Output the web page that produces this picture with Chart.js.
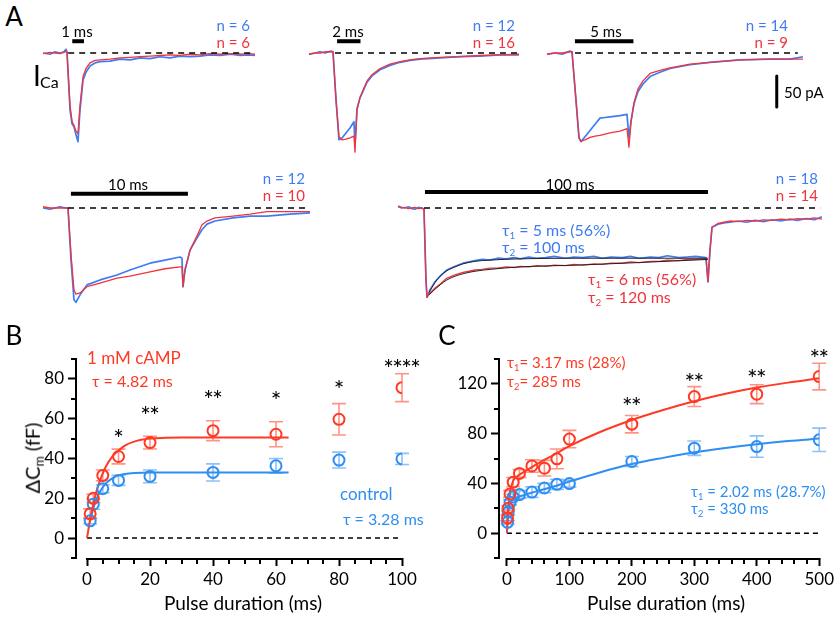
<!DOCTYPE html>
<html>
<head>
<meta charset="utf-8">
<script src="https://cdn.jsdelivr.net/npm/chart.js@4.4.1/dist/chart.umd.min.js"></script>
<style>
  body { margin: 0; background: #fff; }
  #fig { position: relative; width: 837px; height: 617px; overflow: hidden; font-family: Lato, 'Open Sans', sans-serif; color: #000; }
  #fig canvas { position: absolute; }
  .t { position: absolute; white-space: nowrap; line-height: 1; }
  .l { transform: translate(0, -50%); }
  .c { transform: translate(-50%, -50%); }
  .r { transform: translate(-100%, -50%); }
  .tb { color: #3f7cf4; }
  .tr { color: #f0343e; }
  .pb { color: #2f8ef2; }
  .pr { color: #ff3a24; }
  .sb { font-size: 0.62em; position: relative; top: 0.32em; }
</style>
</head>
<body>
<div id="fig">
  <canvas id="tr1"></canvas>
  <canvas id="tr2"></canvas>
  <canvas id="tr3"></canvas>
  <canvas id="tr4"></canvas>
  <canvas id="tr5"></canvas>
  <canvas id="chartB"></canvas>
  <canvas id="chartC"></canvas>

  <!-- panel A labels -->
  <div class="t c" style="left:14px;top:16px;font-size:26px">A</div>
  <div class="t l" style="left:33px;top:75px;font-size:28px">I</div>
  <div class="t l" style="left:40px;top:82px;font-size:16px">Ca</div>
  <div class="t c" style="left:77px;top:31px;font-size:15px">1 ms</div>
  <div class="t r tb" style="left:250px;top:25px;font-size:15px">n = 6</div>
  <div class="t r tr" style="left:250px;top:42px;font-size:15px">n = 6</div>
  <div class="t c" style="left:348px;top:31px;font-size:15px">2 ms</div>
  <div class="t r tb" style="left:515px;top:25px;font-size:15px">n = 12</div>
  <div class="t r tr" style="left:515px;top:42px;font-size:15px">n = 16</div>
  <div class="t c" style="left:606px;top:31px;font-size:15px">5 ms</div>
  <div class="t r tb" style="left:788px;top:25px;font-size:15px">n = 14</div>
  <div class="t r tr" style="left:788px;top:42px;font-size:15px">n = 9</div>
  <div class="t l" style="left:784px;top:92px;font-size:15px">50 pA</div>
  <div class="t c" style="left:128px;top:184px;font-size:15px">10 ms</div>
  <div class="t r tb" style="left:305px;top:178px;font-size:15px">n = 12</div>
  <div class="t r tr" style="left:305px;top:195px;font-size:15px">n = 10</div>
  <div class="t c" style="left:570px;top:184px;font-size:15px">100 ms</div>
  <div class="t r tb" style="left:818px;top:178px;font-size:15px">n = 18</div>
  <div class="t r tr" style="left:818px;top:195px;font-size:15px">n = 14</div>
  <div class="t l tb" style="left:502px;top:230px;font-size:16px">τ<span class="sb">1</span> = 5 ms (56%)</div>
  <div class="t l tb" style="left:502px;top:247px;font-size:16px">τ<span class="sb">2</span> = 100 ms</div>
  <div class="t l tr" style="left:588px;top:279px;font-size:16px">τ<span class="sb">1</span> = 6 ms (56%)</div>
  <div class="t l tr" style="left:588px;top:297px;font-size:16px">τ<span class="sb">2</span> = 120 ms</div>

  <!-- panel B labels -->
  <div class="t c" style="left:14px;top:335px;font-size:26px">B</div>
  <div class="t l pr" style="left:87px;top:357px;font-size:17px">1 mM cAMP</div>
  <div class="t l pr" style="left:92px;top:381px;font-size:16px">τ = 4.82 ms</div>
  <div class="t l pb" style="left:340px;top:493px;font-size:17px">control</div>
  <div class="t l pb" style="left:343px;top:519px;font-size:16px">τ = 3.28 ms</div>
  <div class="t" style="left:32px;top:458px;font-size:20px;transform:translate(-50%,-50%) rotate(-90deg)">ΔC<span class="sb">m</span> (fF)</div>
  <div class="t c" style="left:243px;top:602px;font-size:19px">Pulse duration (ms)</div>

  <!-- panel C labels -->
  <div class="t c" style="left:447px;top:335px;font-size:26px">C</div>
  <div class="t l pr" style="left:507px;top:362px;font-size:15px">τ<span class="sb">1</span>= 3.17 ms (28%)</div>
  <div class="t l pr" style="left:507px;top:381px;font-size:15px">τ<span class="sb">2</span>= 285 ms</div>
  <div class="t l pb" style="left:691px;top:491px;font-size:15px">τ<span class="sb">1</span> = 2.02 ms (28.7%)</div>
  <div class="t l pb" style="left:691px;top:508px;font-size:15px">τ<span class="sb">2</span> = 330 ms</div>
  <div class="t c" style="left:666px;top:602px;font-size:19px">Pulse duration (ms)</div>
</div>

<script>
// ---- Panel A: averaged I_Ca traces, time from pulse onset (ms), current (pA) ----
const trace1Time = [-2.05, -1.45, -1.03, -0.6, -0.26, -0.09, 0, 0.26, 0.43, 0.6, 0.77, 0.94, 1.11, 1.37, 1.62, 1.97, 2.39, 2.82, 3.68, 4.53, 5.4, 6.24, 7.1, 7.95, 8.8, 9.66, 10.5, 11.37, 12.2, 13.08, 14, 14.8, 15.5, 16.07];
const trace1Control = [0, -2, 2, 0, 2, 6, 2, -92, -114, -119, -132, -143, -92, -44, -31, -21, -16, -14, -13, -10, -11, -8, -9, -6, -8, -5, -6, -5, -3, -4, -2, -4, -3, -4];
const trace1Camp = [-1, 1, 0, -1, 1, 3, 1, -85, -110, -117, -126, -130, -85, -38, -25, -16, -12, -11, -10, -8, -7, -6, -5, -4, -3, -4, -2, -3, -1, -2, -1, -2, -1, -2];

const trace2Time = [-2.05, -1.54, -1.11, -0.68, -0.17, 0, 0.26, 0.51, 0.77, 1.11, 1.45, 1.79, 1.88, 2.05, 2.31, 2.56, 2.91, 3.33, 4.02, 4.87, 5.73, 6.58, 7.44, 9.15, 10.85, 12.56, 14.27, 15.9];
const trace2Control = [-2, 0, 2, 0, 3, 2, -76, -140, -137, -129, -121, -111, -148, -90, -72, -62, -47, -37, -27, -20, -15, -12, -10, -8, -6, -5, -3, -3];
const trace2Camp = [-2, 0, 0, 2, 2, 2, -76, -135, -140, -139, -137, -134, -160, -92, -72, -60, -45, -35, -25, -18, -14, -11, -9, -7, -6, -4, -3, -2];

const trace3Time = [-2.14, -1.45, -0.85, -0.17, 0, 0.34, 0.6, 0.77, 1.11, 1.54, 1.97, 2.39, 2.82, 3.25, 4.1, 4.7, 4.87, 5.04, 5.3, 5.64, 6.07, 6.67, 7.52, 8.38, 10.09, 11.79, 14.36, 16.92, 18.63, 19.74];
const trace3Control = [-2, 0, -2, 3, 2, -76, -137, -143, -135, -125, -115, -105, -104, -103, -101, -99, -137, -110, -82, -62, -50, -38, -31, -25, -19, -15, -11, -10, -10, -6];
const trace3Camp = [-2, 0, 0, 2, 2, -76, -137, -142, -140, -136, -134, -133, -131, -129, -126, -122, -152, -112, -80, -58, -45, -33, -28, -24, -18, -15, -11, -10, -10, -10];

const trace4Time = [-2.14, -1.54, -0.68, -0.17, 0, 0.26, 0.51, 0.68, 1.03, 1.62, 2.74, 4.19, 5.3, 7.01, 8.29, 9.57, 9.74, 9.83, 10, 10.43, 11.03, 11.45, 11.88, 12.56, 14.1, 15.56, 17.01, 18.97, 20.68];
const trace4Control = [0, -2, 2, 0, 0, -84, -148, -152, -140, -124, -116, -108, -100, -89, -84, -79, -81, -127, -100, -68, -48, -35, -26, -21, -16, -13, -13, -10, -8];
const trace4Camp = [2, 0, 0, 0, 0, -76, -132, -139, -137, -127, -121, -113, -110, -103, -98, -95, -95, -127, -100, -68, -45, -27, -21, -16, -13, -10, -6, -6, -6];

const trace5Time = [-9.2, -8, -6.7, -5.5, -4.2, -3.2, -2, -0.7, 0, 0.7, 1.06, 2.12, 3.89, 5.65, 8.13, 10.95, 13.78, 16, 18, 20.5, 23.3, 26, 29, 32, 34, 37, 40, 43, 46, 50, 53, 56, 60, 63, 66, 70, 73, 76, 80, 83, 86, 90, 93, 96, 99.65, 100.35, 101.06, 101.77, 103.9, 106, 108.1, 111, 114, 117, 120, 123, 126, 129.3, 132, 135, 138, 140.6];
const trace5Control = [3, 1, 0, 2, -1, -2, 1, 0, -2, -116, -144, -132, -119, -110, -100, -94, -89, -87, -85, -83, -84, -81, -82, -80, -82, -79, -81, -80, -78, -81, -79, -80, -78, -81, -79, -80, -78, -81, -79, -80, -77, -80, -79, -78, -80, -119, -68, -31, -26, -24, -23, -21, -23, -20, -22, -19, -21, -18, -20, -17, -19, -14];
const trace5Camp = [2, 0, 1, -1, 0, 1, -1, 0, -2, -116, -144, -137, -129, -123, -113, -108, -104, -102, -100, -99, -97, -97, -95, -96, -94, -95, -93, -94, -92, -93, -91, -92, -90, -91, -89, -89, -87, -88, -86, -86, -84, -85, -83, -83, -82, -119, -68, -31, -25, -23, -21, -22, -20, -21, -19, -20, -18, -19, -17, -18, -16, -18];
// two-exponential fits drawn in black over the 100 ms traces
const trace5FitTime = [1.8, 3.9, 5.7, 8.1, 11, 13.8, 18, 23.3, 34, 55, 76, 100.3];
const trace5FitControl = [-136, -120, -110, -101, -95, -90, -86, -84, -82, -81, -81, -81];
const trace5FitCamp = [-140, -131, -124, -116, -110, -106, -102, -99, -95, -92, -88, -83];

const scaleBarMs = [1, 2, 5, 10, 100];
const scaleBarPA = 50;

// ---- Panels B and C: capacitance jump vs pulse duration ----
const pulseMs = [1, 2, 5, 10, 20, 40, 60, 80, 100, 200, 300, 400, 500];
const campMean = [12.2, 20, 31.5, 41, 48, 54, 52.2, 59.7, 75.6, 87.6, 109.8, 111.7, 125.9];
const campSem = [2.5, 2, 2.7, 3.7, 3.2, 5, 6.3, 7.9, 7, 7, 8, 7.6, 10.7];
const controlMean = [8.7, 17, 24.8, 29, 31, 33, 36.3, 39.2, 39.8, 57.6, 68.3, 69.6, 75];
const controlSem = [1.5, 2.5, 2, 2.5, 3.2, 4.3, 3.7, 4, 2.8, 4, 5.8, 8.6, 9.4];

// single-exponential fits (panel B)
const fitBCampTime = [0, 1, 2, 3, 4, 5, 6, 8, 10, 12, 15, 20, 25, 30, 40, 50, 64];
const fitBCamp = [0, 9.5, 17, 23.5, 28.5, 32.5, 36, 41, 44, 46.5, 48.5, 50, 50.4, 50.5, 50.5, 50.5, 50.5];
const fitBControlTime = [1, 2, 3, 4, 5, 6, 8, 10, 12, 15, 20, 25, 30, 40, 50, 64];
const fitBControl = [8.7, 15, 19.5, 23, 25.5, 27.5, 30, 31.5, 32.2, 32.7, 33, 33, 33, 33, 33, 33];

// double-exponential fits (panel C)
const fitCTime = [0, 1, 2, 3, 5, 7, 10, 15, 20, 30, 50, 75, 100, 150, 200, 250, 300, 350, 400, 450, 500];
const fitCCamp = [0, 11, 19.5, 25, 33.5, 37.5, 42, 45, 47, 50, 56, 63, 70, 81.5, 91, 99, 106, 112, 117, 121, 124.5];
const fitCControl = [0, 10.3, 16.5, 20, 24, 25.5, 27, 28.5, 29.5, 31, 34, 37.5, 41.5, 49, 55.5, 60.5, 65, 68.5, 71.5, 74, 76];

// significance marks above each pulse duration
const sigB = ['', '', '', '*', '**', '**', '*', '*', '****'];
const sigC = ['', '', '', '', '', '', '', '', '', '**', '**', '**', '**'];

const BLUE_TRACE = '#3f7cf4';
const RED_TRACE = '#f0343e';
const BLUE = '#2f8ef2';
const RED = '#ff3a24';
const FONT = "Lato, 'Open Sans', sans-serif";
const PX_PER_PA = 0.62;

Chart.defaults.font.family = FONT;
Chart.defaults.color = '#000';

function xy(xs, ys) {
  return xs.map((x, i) => ({ x, y: ys[i] }));
}

function lineSet(data, color, width, order, extra) {
  return Object.assign({ data, borderColor: color, borderWidth: width, order, fill: false, pointRadius: 0 }, extra || {});
}

// ---- trace panels ----
const traceLayout = [
  { id: 'tr1', left: 40, top: 12, width: 225, height: 150, ox: 67, oy: 53, pxPerMs: 11.7,
    time: trace1Time, control: trace1Control, camp: trace1Camp, bar: 0, barStart: 0.45, barLevel: 19, base: [0.1, 15.9] },
  { id: 'tr2', left: 300, top: 12, width: 225, height: 150, ox: 333, oy: 53, pxPerMs: 11.7,
    time: trace2Time, control: trace2Control, camp: trace2Camp, bar: 1, barStart: 0.35, barLevel: 19, base: [0.17, 15.9] },
  { id: 'tr3', left: 540, top: 12, width: 292, height: 150, ox: 572, oy: 53, pxPerMs: 11.7,
    time: trace3Time, control: trace3Control, camp: trace3Camp, bar: 2, barStart: 0.25, barLevel: 19, base: [0.26, 19.3],
    pABar: { t: 17.5, from: -37 } },
  { id: 'tr4', left: 40, top: 165, width: 280, height: 145, ox: 68, oy: 208, pxPerMs: 11.7,
    time: trace4Time, control: trace4Control, camp: trace4Camp, bar: 3, barStart: 0.25, barLevel: 23, base: [0, 20.5] },
  { id: 'tr5', left: 390, top: 165, width: 440, height: 145, ox: 424, oy: 208, pxPerMs: 2.83,
    time: trace5Time, control: trace5Control, camp: trace5Camp, bar: 4, barStart: 0.35, barLevel: 26, base: [0, 140],
    fits: true }
];

function makeTrace(cfg) {
  const canvas = document.getElementById(cfg.id);
  canvas.width = cfg.width;
  canvas.height = cfg.height;
  canvas.style.left = cfg.left + 'px';
  canvas.style.top = cfg.top + 'px';

  const barEnd = cfg.barStart + scaleBarMs[cfg.bar];
  const datasets = [
    lineSet([{ x: cfg.base[0], y: 0 }, { x: cfg.base[1], y: 0 }], '#000', 1.5, 0, { borderDash: [6, 5] }),
    lineSet([{ x: cfg.barStart, y: cfg.barLevel }, { x: barEnd, y: cfg.barLevel }], '#000', 4, 0),
    lineSet(xy(cfg.time, cfg.camp), RED_TRACE, 1.3, 2),
    lineSet(xy(cfg.time, cfg.control), BLUE_TRACE, 1.7, 3)
  ];
  if (cfg.pABar) {
    datasets.push(lineSet([{ x: cfg.pABar.t, y: cfg.pABar.from }, { x: cfg.pABar.t, y: cfg.pABar.from - scaleBarPA }], '#000', 3, 0));
  }
  if (cfg.fits) {
    datasets.push(lineSet(xy(trace5FitTime, trace5FitControl), '#222', 1, 1, { cubicInterpolationMode: 'monotone' }));
    datasets.push(lineSet(xy(trace5FitTime, trace5FitCamp), '#222', 1, 1, { cubicInterpolationMode: 'monotone' }));
  }

  new Chart(canvas, {
    type: 'line',
    data: { datasets },
    options: {
      responsive: false,
      animation: false,
      events: [],
      layout: { padding: 0, autoPadding: false },
      plugins: { legend: { display: false }, tooltip: { enabled: false } },
      elements: { point: { radius: 0 }, line: { tension: 0, borderJoinStyle: 'round', borderCapStyle: 'butt' } },
      scales: {
        x: { type: 'linear', display: false,
             min: (cfg.left - cfg.ox) / cfg.pxPerMs, max: (cfg.left + cfg.width - cfg.ox) / cfg.pxPerMs },
        y: { type: 'linear', display: false,
             min: (cfg.oy - cfg.top - cfg.height) / PX_PER_PA, max: (cfg.oy - cfg.top) / PX_PER_PA }
      }
    }
  });
}

// ---- Prism-style axes: offset x axis line and short minor ticks ----
const prismAxes = {
  id: 'prismAxes',
  afterDraw(chart) {
    const { ctx, chartArea: a, scales: { x, y } } = chart;
    ctx.save();
    ctx.strokeStyle = '#000';
    ctx.lineWidth = 2;
    ctx.beginPath();
    ctx.moveTo(x.getPixelForValue(0) - 1, a.bottom + 1);
    ctx.lineTo(x.getPixelForValue(x.max) + 1, a.bottom + 1);
    x.ticks.forEach(t => {
      if (t.label === '') {
        const px = Math.round(x.getPixelForValue(t.value));
        ctx.moveTo(px, a.bottom);
        ctx.lineTo(px, a.bottom + 6);
      }
    });
    y.ticks.forEach(t => {
      if (t.label === '') {
        const py = Math.round(y.getPixelForValue(t.value));
        ctx.moveTo(a.left - 5, py);
        ctx.lineTo(a.left, py);
      }
    });
    ctx.stroke();
    ctx.restore();
  }
};

// ---- mean ± SEM whiskers ----
const errorBars = {
  id: 'errorBars',
  beforeDatasetsDraw(chart) {
    const { ctx, scales: { x, y } } = chart;
    ctx.save();
    chart.data.datasets.forEach(ds => {
      if (!ds.errors) return;
      ctx.strokeStyle = ds.errorColor;
      ctx.lineWidth = 1.6;
      ctx.beginPath();
      ds.data.forEach((p, j) => {
        const px = x.getPixelForValue(p.x);
        const hi = y.getPixelForValue(p.y + ds.errors[j]);
        const lo = y.getPixelForValue(p.y - ds.errors[j]);
        ctx.moveTo(px, hi); ctx.lineTo(px, lo);
        ctx.moveTo(px - 7, hi); ctx.lineTo(px + 7, hi);
        ctx.moveTo(px - 7, lo); ctx.lineTo(px + 7, lo);
      });
      ctx.stroke();
    });
    ctx.restore();
  }
};

// ---- significance asterisks ----
const starLabels = {
  id: 'starLabels',
  afterDatasetsDraw(chart, args, opts) {
    const { ctx, scales: { x, y } } = chart;
    ctx.save();
    ctx.fillStyle = '#000';
    ctx.font = '25px ' + FONT;
    ctx.textAlign = 'center';
    ctx.textBaseline = 'alphabetic';
    const m = ctx.measureText('*');
    const shift = (m.actualBoundingBoxAscent - m.actualBoundingBoxDescent) / 2;
    opts.marks.forEach((text, i) => {
      if (!text) return;
      const cx = x.getPixelForValue(pulseMs[i]);
      const cy = y.getPixelForValue(opts.levels[i]) + shift;
      for (let k = 0; k < text.length; k++) {
        ctx.fillText('*', cx + (k - (text.length - 1) / 2) * opts.pitch, cy);
      }
    });
    ctx.restore();
  }
};

function makePanel(cfg) {
  const canvas = document.getElementById(cfg.id);
  canvas.width = cfg.width;
  canvas.height = cfg.height;
  canvas.style.left = cfg.left + 'px';
  canvas.style.top = cfg.top + 'px';

  const n = cfg.count;
  const xTicks = [];
  for (let v = 0; v <= cfg.xMax; v += cfg.xStep) xTicks.push({ value: v });
  const yTicks = [];
  for (let v = cfg.yMin; v <= cfg.yMax; v += cfg.yStep) yTicks.push({ value: v });

  const xLabel = v => (v >= 0 && v % cfg.xMajor === 0) ? String(v) : '';
  const yLabel = v => (v >= 0 && v <= cfg.yLabelMax && v % cfg.yMajor === 0) ? String(v) : '';
  const tickColor = c => (c.tick && c.tick.label !== '') ? '#000' : 'rgba(0,0,0,0)';

  const datasets = [
    { data: xy(pulseMs.slice(0, n), campMean.slice(0, n)), errors: campSem.slice(0, n), errorColor: 'rgba(255,58,36,0.55)',
      borderColor: RED, pointBorderColor: RED, pointBackgroundColor: 'rgba(255,255,255,0)', pointRadius: 5.5, pointBorderWidth: 2, order: 0 },
    { data: xy(pulseMs.slice(0, n), controlMean.slice(0, n)), errors: controlSem.slice(0, n), errorColor: 'rgba(47,142,242,0.55)',
      borderColor: BLUE, pointBorderColor: BLUE, pointBackgroundColor: 'rgba(255,255,255,0)', pointRadius: 5.5, pointBorderWidth: 2, order: 1 },
    lineSet(cfg.campFit, RED, 2, 2, { showLine: true, cubicInterpolationMode: 'monotone' }),
    lineSet(cfg.controlFit, BLUE, 2, 3, { showLine: true, cubicInterpolationMode: 'monotone' }),
    lineSet([{ x: 0, y: 0 }, { x: cfg.xMax, y: 0 }], '#000', 1.5, 4, { showLine: true, borderDash: [5, 4] })
  ];

  new Chart(canvas, {
    type: 'scatter',
    data: { datasets },
    plugins: [errorBars, prismAxes, starLabels],
    options: {
      responsive: false,
      animation: false,
      events: [],
      layout: { padding: { top: cfg.padTop, right: cfg.padRight, left: 0, bottom: 0 }, autoPadding: false },
      plugins: {
        legend: { display: false },
        tooltip: { enabled: false },
        starLabels: { marks: cfg.marks, levels: cfg.markLevels, pitch: 9 }
      },
      scales: {
        x: {
          type: 'linear', min: cfg.xMin, max: cfg.xMax,
          afterBuildTicks: s => { s.ticks = xTicks.map(t => ({ value: t.value })); },
          afterFit: s => { s.height = cfg.xHeight; },
          border: { display: false },
          grid: { drawOnChartArea: false, drawTicks: true, tickLength: 8, tickWidth: 2, tickColor },
          ticks: { autoSkip: false, maxRotation: 0, padding: 3, font: { size: 17 }, color: '#000', callback: xLabel }
        },
        y: {
          type: 'linear', min: cfg.yMin, max: cfg.yMax,
          afterBuildTicks: s => { s.ticks = yTicks.map(t => ({ value: t.value })); },
          afterFit: s => { s.width = cfg.yWidth; },
          border: { display: true, width: 2, color: '#000' },
          grid: { drawOnChartArea: false, drawTicks: true, tickLength: 8, tickWidth: 2, tickColor },
          ticks: { autoSkip: false, padding: 4, font: { size: 17 }, color: '#000', callback: yLabel }
        }
      }
    }
  });
}

traceLayout.forEach(makeTrace);

makePanel({
  id: 'chartB', left: 0, top: 310, width: 420, height: 307,
  padTop: 49, padRight: 18, yWidth: 76, xHeight: 59,
  xMin: -3.5, xMax: 100, xStep: 5, xMajor: 20,
  yMin: -10, yMax: 90, yStep: 10, yMajor: 20, yLabelMax: 80,
  count: 9,
  campFit: xy(fitBCampTime, fitBCamp),
  controlFit: xy(fitBControlTime, fitBControl),
  marks: sigB,
  markLevels: [0, 0, 0, 53.3, 64.4, 72.5, 72, 77.5, 88]
});

makePanel({
  id: 'chartC', left: 420, top: 310, width: 417, height: 307,
  padTop: 49, padRight: 15, yWidth: 79, xHeight: 59,
  xMin: -12.7, xMax: 500, xStep: 20, xMajor: 100,
  yMin: -20, yMax: 140, yStep: 20, yMajor: 40, yLabelMax: 120,
  count: 13,
  campFit: xy(fitCTime, fitCCamp),
  controlFit: xy(fitCTime, fitCControl),
  marks: sigC,
  markLevels: [0, 0, 0, 0, 0, 0, 0, 0, 0, 107, 125.6, 128.9, 145]
});
</script>
</body>
</html>
